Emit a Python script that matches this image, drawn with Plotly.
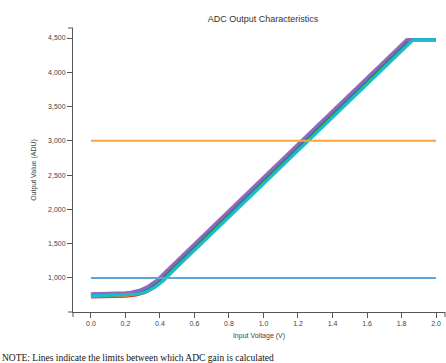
import plotly.graph_objects as go

# ---- data ----
series_names = ["S1", "S2", "S3", "S4", "S5", "S6"]
series_colors = ["#d62728", "#ff7f0e", "#2ca02c", "#1f77b4", "#9467bd", "#17becf"]

x_red = [0, 0.1, 0.2, 0.262, 0.312, 0.362, 0.412, 0.462, 0.512, 1.012, 1.512, 1.861, 2.0]
y_red = [722, 725, 735, 752, 786, 855, 957, 1085, 1208, 2419, 3630, 4475, 4475]
x_orange = [0, 0.1, 0.2, 0.254, 0.304, 0.354, 0.404, 0.454, 0.504, 1.004, 1.504, 1.853, 2.0]
y_orange = [733, 736, 746, 761, 794, 860, 958, 1085, 1208, 2419, 3630, 4475, 4475]
x_green = [0, 0.1, 0.2, 0.246, 0.296, 0.346, 0.396, 0.446, 0.496, 0.996, 1.496, 1.845, 2.0]
y_green = [748, 751, 761, 773, 804, 866, 960, 1085, 1208, 2419, 3630, 4475, 4475]
x_blue = [0, 0.1, 0.2, 0.238, 0.288, 0.338, 0.388, 0.438, 0.488, 0.988, 1.488, 1.837, 2.0]
y_blue = [760, 763, 773, 784, 812, 872, 962, 1085, 1208, 2419, 3630, 4475, 4475]
x_purple = [0, 0.1, 0.2, 0.23, 0.28, 0.33, 0.38, 0.43, 0.48, 0.98, 1.48, 1.829, 2.0]
y_purple = [771, 774, 784, 794, 820, 878, 964, 1085, 1208, 2419, 3630, 4475, 4475]
x_cyan = [0, 0.1, 0.2, 0.27, 0.32, 0.37, 0.42, 0.47, 0.52, 1.02, 1.52, 1.869, 2.0]
y_cyan = [742, 745, 755, 768, 799, 862, 959, 1085, 1208, 2419, 3630, 4475, 4475]

limit_x = [0.0, 2.0]
limit_low = [1000, 1000]
limit_high = [3000, 3000]

y_ticks = [1000, 1500, 2000, 2500, 3000, 3500, 4000, 4500]
x_ticks = [0.0, 0.2, 0.4, 0.6, 0.8, 1.0, 1.2, 1.4, 1.6, 1.8, 2.0]

series_x = [x_red, x_orange, x_green, x_blue, x_purple, x_cyan]
series_y = [y_red, y_orange, y_green, y_blue, y_purple, y_cyan]

fig = go.Figure()
for name, col, xs, ys in zip(series_names, series_colors, series_x, series_y):
    fig.add_trace(go.Scatter(x=xs, y=ys, mode="lines", name=name,
                             line=dict(color=col, width=3, shape="linear")))

fig.add_trace(go.Scatter(x=limit_x, y=limit_low, mode="lines",
                         line=dict(color="#5DA5DA", width=2)))
fig.add_trace(go.Scatter(x=limit_x, y=limit_high, mode="lines",
                         line=dict(color="#FAA43A", width=2)))

W, H = 446, 363
ml, mr, mt, mb = 73, 1, 28, 51
pw, ph = W - ml - mr, H - mt - mb

axis_font = dict(family="Liberation Sans, Arial, sans-serif", size=7, color="#444")

fig.update_layout(
    width=W, height=H,
    margin=dict(l=ml, r=mr, t=mt, b=mb, autoexpand=False),
    paper_bgcolor="white", plot_bgcolor="white",
    showlegend=False,
    title=dict(text="ADC Output Characteristics", x=263 / W, xanchor="center",
               y=1 - 19 / H, yanchor="middle",
               font=dict(family="Liberation Sans, Arial, sans-serif", size=9, color="#333")),
    xaxis=dict(range=[-0.104, 2.052], tickvals=x_ticks, tickformat=".1f",
               showgrid=False, zeroline=False, showline=True, linecolor="#555",
               linewidth=1, ticks="outside", ticklen=5, tickcolor="#555",
               tickfont=axis_font, automargin=False,
               title=dict(text="Input Voltage (V)", standoff=6,
                          font=dict(family="Liberation Sans, Arial, sans-serif", size=7, color="#444"))),
    yaxis=dict(range=[504, 4646], tickvals=y_ticks, tickformat=",",
               showgrid=False, zeroline=False, showline=True, linecolor="#555",
               linewidth=1, ticks="outside", ticklen=5, tickcolor="#555",
               tickfont=axis_font, automargin=False,
               title=dict(text="Output Value (ADU)", standoff=10,
                          font=dict(family="Liberation Sans, Arial, sans-serif", size=7, color="#444"))),
)

# d3-style domain end ticks
tx = 5 / pw
ty = 5 / ph
fig.add_shape(type="line", xref="paper", yref="paper", x0=0, x1=-tx, y0=1, y1=1,
              line=dict(color="#555", width=1))
fig.add_shape(type="line", xref="paper", yref="paper", x0=0, x1=-tx, y0=0, y1=0,
              line=dict(color="#555", width=1))
fig.add_shape(type="line", xref="paper", yref="paper", x0=0, x1=0, y0=0, y1=-ty,
              line=dict(color="#555", width=1))
fig.add_shape(type="line", xref="paper", yref="paper", x0=1, x1=1, y0=0, y1=-ty,
              line=dict(color="#555", width=1))

fig.add_annotation(text="NOTE: Lines indicate the limits between which ADC gain is calculated",
                   xref="paper", yref="paper", x=-ml / pw, y=-(358 - (mt + ph)) / ph,
                   xanchor="left", yanchor="middle", showarrow=False,
                   font=dict(family="Liberation Serif, Times New Roman, serif", size=9.5, color="#111"))

fig.write_html("out.html", config={"displayModeBar": False},
               post_script="document.body.style.margin='0';document.body.style.overflow='hidden';")
